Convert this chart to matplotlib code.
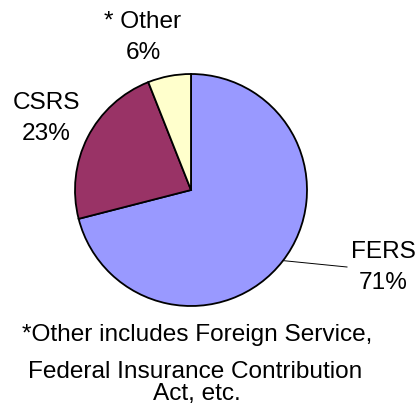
import numpy as np
import matplotlib.pyplot as plt

plt.rcParams['font.family'] = ['Liberation Sans', 'DejaVu Sans']

# Data
labels = ["FERS", "CSRS", "* Other"]
shares = [71, 23, 6]
colors = ["#9999FF", "#993366", "#FFFFCC"]
note_lines = ["*Other includes Foreign Service,",
              "Federal Insurance Contribution",
              "Act, etc."]

W, H = 419, 407
fig = plt.figure(figsize=(W / 100, H / 100), dpi=100)
ax = fig.add_axes([0, 0, 1, 1])

cx, cy, r = 191, H - 190, 116
ax.pie(shares, colors=colors, startangle=90, counterclock=False,
       center=(cx, cy), radius=r,
       wedgeprops=dict(edgecolor="black", linewidth=1.3))

ax.set_xlim(0, W)
ax.set_ylim(0, H)
ax.set_aspect("equal")
ax.set_axis_off()

fs = 17.6

# slice labels: name on top, percent below (baselines in pixels from top)
label_pos = {"FERS": (383, 258), "CSRS": (46, 109), "* Other": (143, 28)}
for name, val in zip(labels, shares):
    x, yb = label_pos[name]
    ax.text(x, H - yb, name, ha="center", va="baseline", fontsize=fs)
    ax.text(x, H - yb - 31, f"{val}%", ha="center", va="baseline", fontsize=fs)

# leader line for FERS
ang = np.deg2rad(-37.5)
ax.plot([cx + r * np.cos(ang), 347], [cy + r * np.sin(ang), H - 267],
        color="black", lw=0.7)

# footnote
for txt, x, yb in zip(note_lines, [197, 195, 197], [341, 378, 400]):
    ax.text(x, H - yb, txt, ha="center", va="baseline", fontsize=fs)

fig.savefig("out.png", dpi=100)
